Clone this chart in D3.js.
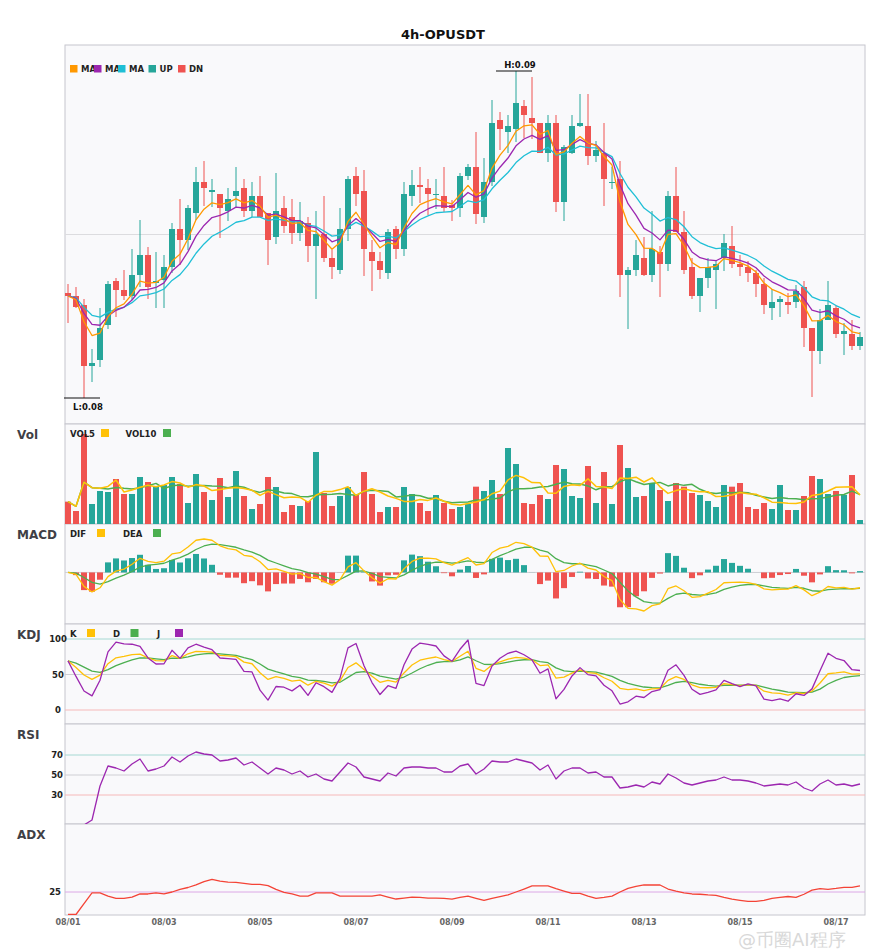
<!DOCTYPE html>
<html>
<head>
<meta charset="utf-8">
<script src="https://cdn.jsdelivr.net/npm/d3@7"></script>
<style>
  body { margin: 0; background: #fff; }
  text { font-family: "DejaVu Sans", sans-serif; }
</style>
</head>
<body>
<div id="chart"></div>
<script>
// 4h candles, 08/01 00:00 -> 08/17 12:00
var title = "4h-OPUSDT";

var open = [
  0.08210, 0.08204, 0.08186, 0.08064, 0.08076, 0.08146, 0.08234, 0.08216, 0.08204, 0.08246,
  0.08286, 0.08230, 0.08236, 0.08262, 0.08338, 0.08316, 0.08370, 0.08432, 0.08412, 0.08408,
  0.08374, 0.08404, 0.08420, 0.08374, 0.08404, 0.08370, 0.08322, 0.08380, 0.08362, 0.08330,
  0.08350, 0.08304, 0.08328, 0.08280, 0.08256, 0.08338, 0.08444, 0.08414, 0.08292, 0.08274,
  0.08250, 0.08338, 0.08298, 0.08404, 0.08426, 0.08420, 0.08406, 0.08404, 0.08386, 0.08380,
  0.08444, 0.08462, 0.08362, 0.08432, 0.08556, 0.08532, 0.08538, 0.08584, 0.08560, 0.08550,
  0.08490, 0.08550, 0.08392, 0.08490, 0.08544, 0.08544, 0.08484, 0.08490, 0.08430, 0.08438,
  0.08246, 0.08256, 0.08280, 0.08246, 0.08292, 0.08268, 0.08404, 0.08332, 0.08262, 0.08204,
  0.08240, 0.08256, 0.08280, 0.08304, 0.08268, 0.08262, 0.08250, 0.08228, 0.08180, 0.08192,
  0.08192, 0.08192, 0.08222, 0.08140, 0.08094, 0.08156, 0.08180, 0.08128, 0.08128, 0.08104
];
var high = [
  0.08228, 0.08222, 0.08198, 0.08098, 0.08180, 0.08234, 0.08240, 0.08256, 0.08298, 0.08356,
  0.08302, 0.08292, 0.08286, 0.08350, 0.08398, 0.08386, 0.08462, 0.08474, 0.08438, 0.08408,
  0.08420, 0.08462, 0.08438, 0.08432, 0.08444, 0.08370, 0.08450, 0.08404, 0.08398, 0.08392,
  0.08362, 0.08374, 0.08404, 0.08296, 0.08380, 0.08444, 0.08462, 0.08456, 0.08316, 0.08292,
  0.08338, 0.08344, 0.08432, 0.08456, 0.08462, 0.08438, 0.08438, 0.08462, 0.08396, 0.08450,
  0.08468, 0.08532, 0.08480, 0.08596, 0.08572, 0.08566, 0.08654, 0.08596, 0.08642, 0.08550,
  0.08566, 0.08566, 0.08506, 0.08566, 0.08608, 0.08608, 0.08514, 0.08550, 0.08462, 0.08474,
  0.08262, 0.08316, 0.08322, 0.08374, 0.08304, 0.08414, 0.08462, 0.08374, 0.08280, 0.08240,
  0.08280, 0.08274, 0.08328, 0.08344, 0.08286, 0.08274, 0.08256, 0.08240, 0.08218, 0.08204,
  0.08210, 0.08226, 0.08234, 0.08140, 0.08178, 0.08234, 0.08186, 0.08150, 0.08156, 0.08132
];
var low = [
  0.08150, 0.08180, 0.08000, 0.08032, 0.08062, 0.08138, 0.08162, 0.08196, 0.08196, 0.08222,
  0.08198, 0.08180, 0.08180, 0.08250, 0.08266, 0.08296, 0.08356, 0.08384, 0.08382, 0.08320,
  0.08354, 0.08382, 0.08362, 0.08362, 0.08362, 0.08266, 0.08308, 0.08330, 0.08308, 0.08314,
  0.08272, 0.08198, 0.08272, 0.08238, 0.08248, 0.08314, 0.08384, 0.08244, 0.08214, 0.08238,
  0.08238, 0.08278, 0.08284, 0.08384, 0.08390, 0.08366, 0.08378, 0.08372, 0.08354, 0.08362,
  0.08436, 0.08348, 0.08350, 0.08424, 0.08496, 0.08490, 0.08512, 0.08520, 0.08518, 0.08490,
  0.08472, 0.08372, 0.08354, 0.08488, 0.08542, 0.08466, 0.08472, 0.08384, 0.08418, 0.08202,
  0.08138, 0.08244, 0.08244, 0.08232, 0.08202, 0.08254, 0.08332, 0.08248, 0.08198, 0.08172,
  0.08220, 0.08178, 0.08254, 0.08260, 0.08244, 0.08232, 0.08202, 0.08168, 0.08156, 0.08162,
  0.08168, 0.08180, 0.08102, 0.08002, 0.08068, 0.08156, 0.08120, 0.08086, 0.08096, 0.08096
];
var close = [
  0.08204, 0.08182, 0.08064, 0.08070, 0.08140, 0.08228, 0.08216, 0.08204, 0.08246, 0.08286,
  0.08222, 0.08234, 0.08262, 0.08338, 0.08316, 0.08380, 0.08432, 0.08420, 0.08416, 0.08380,
  0.08398, 0.08414, 0.08374, 0.08404, 0.08362, 0.08316, 0.08374, 0.08344, 0.08330, 0.08354,
  0.08304, 0.08328, 0.08280, 0.08262, 0.08338, 0.08438, 0.08408, 0.08298, 0.08274, 0.08256,
  0.08332, 0.08298, 0.08408, 0.08426, 0.08422, 0.08408, 0.08408, 0.08380, 0.08380, 0.08444,
  0.08462, 0.08368, 0.08432, 0.08550, 0.08538, 0.08544, 0.08590, 0.08566, 0.08550, 0.08490,
  0.08550, 0.08392, 0.08502, 0.08544, 0.08550, 0.08484, 0.08496, 0.08438, 0.08432, 0.08246,
  0.08256, 0.08286, 0.08246, 0.08298, 0.08268, 0.08404, 0.08332, 0.08256, 0.08204, 0.08240,
  0.08262, 0.08268, 0.08310, 0.08268, 0.08262, 0.08250, 0.08228, 0.08186, 0.08192, 0.08198,
  0.08186, 0.08214, 0.08140, 0.08094, 0.08156, 0.08186, 0.08128, 0.08134, 0.08104, 0.08122
];
var volume = [
  67, 39, 270, 60, 99, 96, 135, 90, 90, 141,
  126, 111, 117, 141, 120, 63, 150, 96, 72, 138,
  81, 159, 84, 45, 60, 141, 111, 36, 57, 54,
  69, 216, 93, 54, 84, 111, 87, 156, 90, 36,
  51, 51, 111, 90, 63, 39, 87, 63, 45, 51,
  60, 112, 99, 132, 90, 228, 180, 63, 60, 87,
  75, 177, 165, 84, 78, 174, 63, 156, 60, 237,
  168, 81, 84, 123, 102, 69, 123, 112, 93, 87,
  69, 51, 117, 112, 123, 51, 45, 63, 45, 117,
  42, 42, 84, 144, 135, 90, 99, 87, 147, 12
];
var rsiValues = [
  0, 0, 0, 5, 39, 59, 57, 54, 61, 66,
  54, 56, 59, 68, 63, 69, 73, 71, 70, 64,
  65, 67, 60, 63, 57, 51, 57, 55, 51, 54,
  48, 51, 46, 44, 53, 62, 58, 48, 46, 44,
  52, 49, 57, 58, 58, 57, 57, 53, 53, 59,
  61, 51, 56, 64, 63, 63, 66, 64, 62, 55,
  60, 46, 54, 57, 57, 52, 53, 48, 48, 37,
  38, 40, 38, 43, 41, 51, 47, 42, 40, 42,
  44, 45, 48, 45, 45, 44, 42, 39, 40, 41,
  40, 43, 37, 34, 41, 45, 40, 41, 39, 41
];
var adxValues = [
  0, 0, 12, 24, 24, 20.5, 18, 18, 19.4, 22.8,
  22.8, 24, 22.8, 25, 28, 30, 33, 36.5, 39, 37,
  36, 35.7, 34.6, 33.5, 33.5, 32, 28, 24.7, 22.8, 20.5,
  20.5, 24, 24, 24, 20.5, 20.5, 20.5, 20.5, 20.5, 21.7,
  19.4, 17.2, 18.3, 19.4, 19, 18.3, 18.3, 18, 17, 19,
  20.5, 18, 15.7, 18, 19.8, 21.7, 25, 28.3, 31.7, 31.7,
  31.7, 28.7, 26, 23.5, 23.5, 20.5, 18, 19, 20.5, 25,
  29, 31.3, 32.8, 32.8, 32.8, 28.3, 26, 24, 22.8, 22.5,
  21.7, 21.3, 19, 17, 15.7, 14.6, 14.6, 15.7, 18, 19,
  20, 19, 22.5, 27, 28.7, 28, 29, 30.2, 30.2, 31.7
];
var tickIndex = [0, 12, 24, 36, 48, 60, 72, 84, 96];
var tickLabels = ["08/01", "08/03", "08/05", "08/07", "08/09", "08/11", "08/13", "08/15", "08/17"];

var upColor = "#26a69a", downColor = "#ef5350";

var width = 885, height = 950,
    left = 65, right = 865;

var svg = d3.select("#chart").append("svg")
    .attr("width", width)
    .attr("height", height);

var n = close.length;
var idx = d3.range(n);

// x scale shared by all panels
var xScale = d3.scaleBand()
    .domain(idx)
    .range([left - 1, right - 1])
    .paddingInner(0.25)
    .paddingOuter(0.125);
var cx = function(i) { return xScale(i) + xScale.bandwidth() / 2; };

// indicator helpers (start from the first bar, like the original)
function movingAvg(arr, p) {
    return arr.map(function(d, i) { return d3.mean(arr.slice(Math.max(0, i - p + 1), i + 1)); });
}
function ema(arr, p) {
    var a = 2 / (p + 1), out = [];
    arr.forEach(function(v, i) { out.push(i ? out[i - 1] + a * (v - out[i - 1]) : v); });
    return out;
}

var ma5 = ema(close, 5), ma8 = ema(close, 8), ma13 = ema(close, 13);
var vol5 = movingAvg(volume, 5), vol10 = movingAvg(volume, 10);

var dif = ma5.map(function(d, i) { return d - ma13[i]; });
var dea = ema(dif, 5);
var hist = dif.map(function(d, i) { return 2 * (d - dea[i]); });

var kArr = [], dArr = [], jArr = [];
idx.forEach(function(i) {
    var s = Math.max(0, i - 8);
    var ll = d3.min(low.slice(s, i + 1)), hh = d3.max(high.slice(s, i + 1));
    var rsv = hh === ll ? 50 : (close[i] - ll) / (hh - ll) * 100;
    var k = i ? kArr[i - 1] * 2 / 3 + rsv / 3 : rsv;
    var d = i ? dArr[i - 1] * 2 / 3 + k / 3 : k;
    kArr.push(k); dArr.push(d); jArr.push(3 * k - 2 * d);
});

// panels
var panels = {
    main: [45, 424], vol: [424, 524], macd: [524, 624],
    kdj: [624, 724], rsi: [724, 824], adx: [824, 915]
};

var defs = svg.append("defs");
Object.keys(panels).forEach(function(key) {
    var p = panels[key];
    svg.append("rect")
        .attr("x", left).attr("y", p[0])
        .attr("width", right - left).attr("height", p[1] - p[0])
        .attr("fill", "#f9f9fb")
        .attr("stroke", "#c6c6ce")
        .attr("stroke-width", 1);
    defs.append("clipPath").attr("id", "clip-" + key)
        .append("rect")
        .attr("x", left).attr("y", p[0])
        .attr("width", right - left).attr("height", p[1] - p[0]);
});

// title
svg.append("text")
    .attr("x", 443).attr("y", 39)
    .attr("text-anchor", "middle")
    .attr("font-size", 13).attr("font-weight", "bold")
    .attr("fill", "#111")
    .text(title);

// panel names
[["Vol", "vol"], ["MACD", "macd"], ["KDJ", "kdj"], ["RSI", "rsi"], ["ADX", "adx"]].forEach(function(d) {
    svg.append("text")
        .attr("x", 17).attr("y", panels[d[1]][0] + 15)
        .attr("font-size", 12).attr("font-weight", "bold")
        .attr("fill", "#3f3f46")
        .text(d[0]);
});

// ---------- main (candles) ----------
var yPrice = d3.scaleLinear()
    .domain([d3.min(low), d3.max(high)])
    .range([398, 71]);

var gMain = svg.append("g").attr("clip-path", "url(#clip-main)");

gMain.append("line")
    .attr("x1", left).attr("x2", right)
    .attr("y1", (panels.main[0] + panels.main[1]) / 2)
    .attr("y2", (panels.main[0] + panels.main[1]) / 2)
    .attr("stroke", "#dcdcdf");

var candle = gMain.selectAll("g.candle")
    .data(idx)
    .enter()
    .append("g")
        .attr("class", "candle")
        .attr("fill", function(i) { return close[i] >= open[i] ? upColor : downColor; })
        .attr("stroke", function(i) { return close[i] >= open[i] ? upColor : downColor; });

candle.append("line")
    .attr("x1", cx).attr("x2", cx)
    .attr("y1", function(i) { return yPrice(high[i]); })
    .attr("y2", function(i) { return yPrice(low[i]); })
    .attr("stroke-width", 1);

candle.append("rect")
    .attr("x", function(i) { return xScale(i); })
    .attr("width", xScale.bandwidth())
    .attr("y", function(i) { return yPrice(Math.max(open[i], close[i])); })
    .attr("height", function(i) {
        return Math.max(1, Math.abs(yPrice(open[i]) - yPrice(close[i])));
    })
    .attr("stroke", "none");

function drawLine(g, values, yScale, color, w) {
    g.append("path")
        .datum(values)
        .attr("fill", "none")
        .attr("stroke", color)
        .attr("stroke-width", w || 1.3)
        .attr("stroke-linejoin", "round")
        .attr("d", d3.line()
            .x(function(d, i) { return cx(i); })
            .y(function(d) { return yScale(d); }));
}

drawLine(gMain, ma13, yPrice, "#1fbfd6");
drawLine(gMain, ma8, yPrice, "#9c27b0");
drawLine(gMain, ma5, yPrice, "#ff9800");

// high / low markers
var hi = d3.maxIndex(high), lo = d3.minIndex(low);
svg.append("line")
    .attr("x1", cx(hi) - 20).attr("x2", cx(hi) + 16)
    .attr("y1", yPrice(high[hi])).attr("y2", yPrice(high[hi]))
    .attr("stroke", "#111").attr("stroke-width", 1.2);
svg.append("text")
    .attr("x", cx(hi) + 4).attr("y", yPrice(high[hi]) - 3)
    .attr("text-anchor", "middle")
    .attr("font-size", 8.5).attr("font-weight", "bold").attr("fill", "#111")
    .text("H:" + high[hi].toFixed(2));
svg.append("line")
    .attr("x1", cx(lo) - 20).attr("x2", cx(lo) + 16)
    .attr("y1", yPrice(low[lo])).attr("y2", yPrice(low[lo]))
    .attr("stroke", "#111").attr("stroke-width", 1.2);
svg.append("text")
    .attr("x", cx(lo) + 4).attr("y", yPrice(low[lo]) + 12)
    .attr("text-anchor", "middle")
    .attr("font-size", 8.5).attr("font-weight", "bold").attr("fill", "#111")
    .text("L:" + low[lo].toFixed(2));

// main legend (as shown: the MA labels are cut short by the next swatch)
var mainLegend = [
    { label: "MA", color: "#ff9800", x: 70 },
    { label: "MA", color: "#9c27b0", x: 94 },
    { label: "MA", color: "#1fbfd6", x: 118 },
    { label: "UP", color: upColor, x: 148.5 },
    { label: "DN", color: downColor, x: 178 }
];
mainLegend.forEach(function(d, k) {
    svg.append("text")
        .attr("x", d.x + 11).attr("y", 72)
        .attr("font-size", 8.5).attr("font-weight", "bold").attr("fill", "#222")
        .text(d.label);
});
mainLegend.forEach(function(d) {
    svg.append("rect")
        .attr("x", d.x).attr("y", 65).attr("width", 7.5).attr("height", 7.5)
        .attr("fill", d.color);
});

function subLegend(top, items) {
    items.forEach(function(d) {
        svg.append("text")
            .attr("x", d.x).attr("y", top + 13)
            .attr("font-size", 8.5).attr("font-weight", "bold").attr("fill", "#222")
            .text(d.label);
        svg.append("rect")
            .attr("x", d.sq).attr("y", top + 5).attr("width", 8).attr("height", 8)
            .attr("fill", d.color);
    });
}

// ---------- volume ----------
var yVol = d3.scaleLinear()
    .domain([0, d3.max(volume)])
    .range([panels.vol[1], 434]);
var gVol = svg.append("g").attr("clip-path", "url(#clip-vol)");
gVol.selectAll("rect")
    .data(idx)
    .enter()
    .append("rect")
        .attr("x", function(i) { return xScale(i); })
        .attr("width", xScale.bandwidth())
        .attr("y", function(i) { return yVol(volume[i]); })
        .attr("height", function(i) { return panels.vol[1] - yVol(volume[i]); })
        .attr("fill", function(i) { return close[i] >= open[i] ? upColor : downColor; });
drawLine(gVol, vol10, yVol, "#4caf50", 1.5);
drawLine(gVol, vol5, yVol, "#ffc107", 1.5);
subLegend(panels.vol[0], [
    { label: "VOL5", x: 70, sq: 101, color: "#ffc107" },
    { label: "VOL10", x: 125.5, sq: 163, color: "#4caf50" }
]);

// ---------- MACD ----------
var macdAll = dif.concat(dea).concat(hist);
var yMacd = d3.scaleLinear()
    .domain(d3.extent(macdAll))
    .range([611, 539]);
var gMacd = svg.append("g").attr("clip-path", "url(#clip-macd)");
gMacd.append("line")
    .attr("x1", left).attr("x2", right)
    .attr("y1", yMacd(0)).attr("y2", yMacd(0))
    .attr("stroke", "#cfcfd4");
gMacd.selectAll("rect")
    .data(idx)
    .enter()
    .append("rect")
        .attr("x", function(i) { return xScale(i); })
        .attr("width", xScale.bandwidth())
        .attr("y", function(i) { return Math.min(yMacd(0), yMacd(hist[i])); })
        .attr("height", function(i) { return Math.abs(yMacd(hist[i]) - yMacd(0)); })
        .attr("fill", function(i) { return hist[i] >= 0 ? upColor : downColor; });
drawLine(gMacd, dea, yMacd, "#4caf50", 1.3);
drawLine(gMacd, dif, yMacd, "#ffc107", 1.3);
subLegend(panels.macd[0], [
    { label: "DIF", x: 70, sq: 97, color: "#ffc107" },
    { label: "DEA", x: 123, sq: 153, color: "#4caf50" }
]);

// ---------- KDJ ----------
var yKdj = d3.scaleLinear().domain([0, 100]).range([710, 639]);
var gKdj = svg.append("g").attr("clip-path", "url(#clip-kdj)");
[[100, "#a6d9d3"], [50, "#cfcfd4"], [0, "#f6b9b9"]].forEach(function(d) {
    gKdj.append("line")
        .attr("x1", left).attr("x2", right)
        .attr("y1", yKdj(d[0])).attr("y2", yKdj(d[0]))
        .attr("stroke", d[1]);
    svg.append("text")
        .attr("x", 58).attr("y", yKdj(d[0]) + 3)
        .attr("text-anchor", "middle")
        .attr("font-size", 8.5).attr("font-weight", "bold").attr("fill", "#222")
        .text(d[0]);
});
drawLine(gKdj, dArr, yKdj, "#4caf50", 1.3);
drawLine(gKdj, kArr, yKdj, "#ffc107", 1.3);
drawLine(gKdj, jArr, yKdj, "#9c27b0", 1.3);
subLegend(panels.kdj[0], [
    { label: "K", x: 70, sq: 87, color: "#ffc107" },
    { label: "D", x: 113, sq: 130.5, color: "#4caf50" },
    { label: "J", x: 157, sq: 175, color: "#9c27b0" }
]);

// ---------- RSI ----------
var yRsi = d3.scaleLinear().domain([0, 100]).range([825, 725]);
var gRsi = svg.append("g").attr("clip-path", "url(#clip-rsi)");
[[70, "#a6d9d3"], [50, "#cfcfd4"], [30, "#f6b9b9"]].forEach(function(d) {
    gRsi.append("line")
        .attr("x1", left).attr("x2", right)
        .attr("y1", yRsi(d[0])).attr("y2", yRsi(d[0]))
        .attr("stroke", d[1]);
    svg.append("text")
        .attr("x", 63).attr("y", yRsi(d[0]) + 3)
        .attr("text-anchor", "end")
        .attr("font-size", 8.5).attr("font-weight", "bold").attr("fill", "#222")
        .text(d[0]);
});
drawLine(gRsi, rsiValues, yRsi, "#9c27b0", 1.3);

// ---------- ADX ----------
var yAdx = d3.scaleLinear().domain([0, 100]).range([914.5, 824.5]);
var gAdx = svg.append("g").attr("clip-path", "url(#clip-adx)");
gAdx.append("line")
    .attr("x1", left).attr("x2", right)
    .attr("y1", yAdx(25)).attr("y2", yAdx(25))
    .attr("stroke", "#dca8e6");
svg.append("text")
    .attr("x", 61).attr("y", yAdx(25) + 3)
    .attr("text-anchor", "end")
    .attr("font-size", 8.5).attr("font-weight", "bold").attr("fill", "#222")
    .text("25");
drawLine(gAdx, adxValues, yAdx, "#f44336", 1.3);

// ---------- date axis ----------
svg.selectAll("text.date")
    .data(tickIndex)
    .enter()
    .append("text")
        .attr("class", "date")
        .attr("x", function(i) { return cx(i); })
        .attr("y", 925)
        .attr("text-anchor", "middle")
        .attr("font-size", 8)
        .attr("font-weight", "bold")
        .attr("fill", "#666")
        .text(function(i, k) { return tickLabels[k]; });

// watermark, kept just under the date labels
svg.append("text")
    .attr("x", 738).attr("y", 946)
    .attr("font-family", "Noto Sans CJK SC, sans-serif")
    .attr("font-size", 18)
    .attr("fill", "#cfcfcf")
    .attr("opacity", 0.8)
    .text("@币圈AI程序");
</script>
</body>
</html>
